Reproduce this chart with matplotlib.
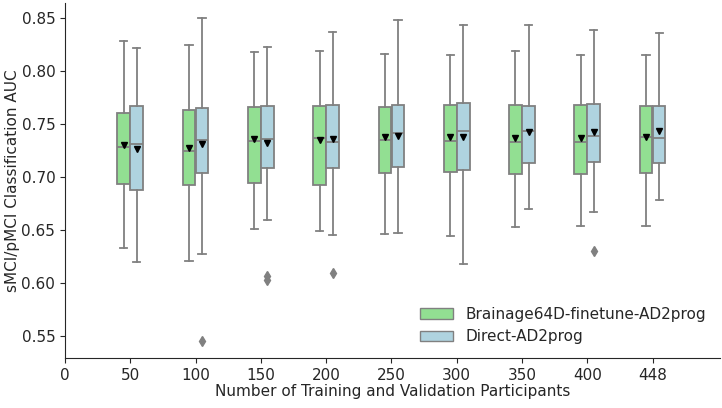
import numpy as np
import matplotlib.pyplot as plt
from matplotlib.patches import Patch

sizes = ['50', '100', '150', '200', '250', '300', '350', '400', '448']
methods = ['Brainage64D-finetune-AD2prog', 'Direct-AD2prog']

# box statistics, one list per method
ft_whislo = [0.633, 0.621, 0.651, 0.649, 0.646, 0.644, 0.653, 0.654, 0.654]
ft_q1 = [0.693, 0.692, 0.694, 0.692, 0.704, 0.705, 0.703, 0.703, 0.704]
ft_med = [0.728, 0.724, 0.734, 0.737, 0.735, 0.734, 0.733, 0.733, 0.738]
ft_q3 = [0.760, 0.763, 0.766, 0.767, 0.766, 0.768, 0.768, 0.768, 0.767]
ft_whishi = [0.828, 0.824, 0.818, 0.819, 0.816, 0.815, 0.819, 0.815, 0.815]
ft_mean = [0.730, 0.727, 0.736, 0.735, 0.738, 0.738, 0.737, 0.737, 0.738]
ft_fliers = [[], [], [], [], [], [], [], [], []]

di_whislo = [0.620, 0.627, 0.659, 0.645, 0.647, 0.618, 0.670, 0.667, 0.678]
di_q1 = [0.688, 0.704, 0.708, 0.708, 0.709, 0.707, 0.713, 0.714, 0.713]
di_med = [0.731, 0.735, 0.736, 0.733, 0.741, 0.743, 0.743, 0.739, 0.737]
di_q3 = [0.767, 0.765, 0.767, 0.768, 0.768, 0.770, 0.767, 0.769, 0.767]
di_whishi = [0.822, 0.850, 0.823, 0.837, 0.848, 0.843, 0.843, 0.839, 0.836]
di_mean = [0.726, 0.731, 0.732, 0.736, 0.739, 0.738, 0.742, 0.742, 0.743]
di_fliers = [[], [0.545], [0.603, 0.607], [0.609], [], [], [], [0.630], []]


def make_stats(lo, q1, med, q3, hi, mean, fl):
    out = []
    for i in range(len(lo)):
        out.append(dict(whislo=lo[i], q1=q1[i], med=med[i], q3=q3[i],
                        whishi=hi[i], mean=mean[i], fliers=fl[i]))
    return out


gray = '#808080'
colors = ['#92df92', '#afd3df']
stats = [make_stats(ft_whislo, ft_q1, ft_med, ft_q3, ft_whishi, ft_mean, ft_fliers),
         make_stats(di_whislo, di_q1, di_med, di_q3, di_whishi, di_mean, di_fliers)]

plt.rcParams['text.color'] = '#262626'
plt.rcParams['axes.labelcolor'] = '#262626'
plt.rcParams['xtick.color'] = '#262626'
plt.rcParams['ytick.color'] = '#262626'
plt.rcParams['axes.edgecolor'] = '#262626'

fs = 11
fig = plt.figure(figsize=(7.22, 4.08), dpi=100)
ax = fig.add_axes([0.09, 0.1225, 0.907, 0.8705])

pos = np.arange(1, len(sizes) + 1)
w = 0.2
for k in range(2):
    ax.bxp(stats[k], positions=pos + (k - 0.5) * w, widths=w * 0.97,
           patch_artist=True, showmeans=True, capwidths=w * 0.55,
           boxprops=dict(facecolor=colors[k], edgecolor=gray, linewidth=1.3),
           whiskerprops=dict(color=gray, linewidth=1.3),
           capprops=dict(color=gray, linewidth=1.3),
           medianprops=dict(color=gray, linewidth=1.3),
           meanprops=dict(marker='v', markerfacecolor='black',
                          markeredgecolor='black', markersize=5),
           flierprops=dict(marker='d', markerfacecolor=gray,
                           markeredgecolor=gray, markersize=5))

ax.set_xticks(np.arange(0, len(sizes) + 1))
ax.set_xticklabels(['0'] + sizes, fontsize=fs)
ax.set_xlim(0, 10.03)
ax.set_ylim(0.5292, 0.8642)
ax.set_yticks([0.55, 0.60, 0.65, 0.70, 0.75, 0.80, 0.85])
ax.set_yticklabels(['0.55', '0.60', '0.65', '0.70', '0.75', '0.80', '0.85'], fontsize=fs)
ax.spines['top'].set_visible(False)
ax.spines['right'].set_visible(False)
ax.set_xlabel('Number of Training and Validation Participants', fontsize=fs, labelpad=1)
ax.set_ylabel('sMCI/pMCI Classification AUC', fontsize=fs, labelpad=1)

handles = [Patch(facecolor=colors[k], edgecolor=gray, label=methods[k]) for k in range(2)]
ax.legend(handles=handles, loc='lower right', frameon=False, fontsize=fs,
          bbox_to_anchor=(1.0, 0.0), handlelength=2.2)

fig.savefig('out.png', dpi=100)
